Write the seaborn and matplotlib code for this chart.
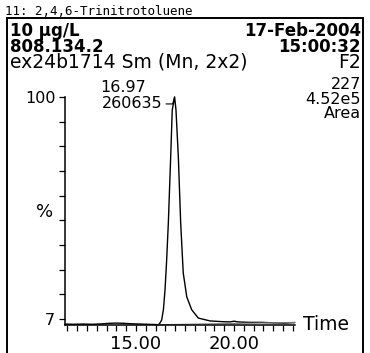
import numpy as np
import pandas as pd
import matplotlib
matplotlib.use("Agg")
import matplotlib.pyplot as plt
import seaborn as sns
from matplotlib.patches import Rectangle

# ---- data ----
time_min = [11.40, 11.80, 12.30, 12.80, 13.30, 13.60, 14.00, 14.40, 14.80, 15.20,
            15.60, 16.00, 16.12, 16.20, 16.31, 16.40, 16.48, 16.56, 16.65, 16.77,
            16.85, 16.97, 17.04, 17.16, 17.28, 17.41, 17.59, 17.84, 18.18, 18.78,
            19.40, 19.80, 20.00, 20.20, 20.80, 21.40, 22.00, 22.60, 23.10]
intensity_pct = [4.9, 4.8, 4.9, 4.8, 5.0, 5.2, 5.3, 5.2, 5.0, 4.9,
                 4.8, 4.7, 4.6, 5.0, 6.6, 11.0, 19.1, 31.0, 47.2, 74.9,
                 94.6, 100.0, 94.6, 74.9, 47.2, 26.3, 16.3, 10.9, 7.4, 6.2,
                 5.9, 5.8, 6.1, 5.8, 5.6, 5.6, 5.4, 5.3, 5.5]
baseline_time = [16.12, 23.10]
baseline_pct = [4.6, 5.6]

peak_time = 16.97
peak_height = 100.0
peak_area = "260635"

title_line = "11: 2,4,6-Trinitrotoluene"
header_left = ["10 µg/L", "808.134.2"]
header_right = ["17-Feb-2004", "15:00:32"]
sample_line = "ex24b1714 Sm (Mn, 2x2)"
function_label = "F2"
right_info = ["227", "4.52e5", "Area"]
x_tick_values = [15, 20]
x_tick_labels = ["15.00", "20.00"]
y_tick_values = [7, 100]
y_tick_labels = ["7", "100"]

sns.set_theme(style="ticks")
plt.rcParams["font.family"] = ["DejaVu Sans"]
plt.rcParams["text.color"] = "black"
plt.rcParams["xtick.color"] = "black"
plt.rcParams["ytick.color"] = "black"
plt.rcParams["axes.labelcolor"] = "black"

W, H = 370, 353
fig = plt.figure(figsize=(W / 100, H / 100), dpi=100)
fig.patch.set_facecolor("white")

def fx(px):
    return px / W

def fy(py):
    return 1 - py / H

ax = fig.add_axes([fx(65), fy(325), (295 - 65) / W, (325 - 97) / H])
ax.set_facecolor("white")

df = pd.DataFrame({"time": time_min, "intensity": intensity_pct})
bl = pd.DataFrame({"time": baseline_time, "intensity": baseline_pct})
sns.lineplot(data=df, x="time", y="intensity", ax=ax, color="black",
             linewidth=1.0, sort=False, estimator=None)
sns.lineplot(data=bl, x="time", y="intensity", ax=ax, color="#777777",
             linewidth=0.8, sort=False, estimator=None)
for ln in ax.lines:
    ln.set_clip_on(False)

ax.set_xlim(11.38, 23.11)
ax.set_ylim(4.5, 100)
ax.set_xlabel("")
ax.set_ylabel("")
for s in ["top", "right"]:
    ax.spines[s].set_visible(False)
for s in ["left", "bottom"]:
    ax.spines[s].set_linewidth(1.1)
    ax.spines[s].set_color("black")

ax.set_xticks(x_tick_values)
ax.set_xticklabels(x_tick_labels)
ax.set_xticks(np.arange(11.5, 23.01, 0.5), minor=True)
ax.set_yticks(y_tick_values)
ax.set_yticklabels(y_tick_labels)
ax.set_yticks(np.linspace(7, 100, 10)[1:-1], minor=True)
ax.tick_params(axis="x", which="both", length=4, width=0.9, direction="out",
               colors="black", labelsize=13, pad=3.5)
ax.tick_params(axis="y", which="both", length=4, width=0.9, direction="out",
               colors="black", labelsize=11.5, pad=3)

# peak annotation
ax.annotate(peak_area, xy=(peak_time, peak_height), xycoords="data",
            xytext=(-8.5, -5), textcoords="offset points", ha="right", va="center",
            fontsize=11.5, annotation_clip=False,
            arrowprops=dict(arrowstyle="-", lw=0.8, color="black",
                            shrinkA=0, shrinkB=0,
                            connectionstyle="angle,angleA=0,angleB=75,rad=0"))
ax.annotate(f"{peak_time:.2f}", xy=(peak_time, peak_height), xycoords="data",
            xytext=(-37, 6.5), textcoords="offset points", ha="center", va="center",
            fontsize=11.5, annotation_clip=False)

ax.text(1.035, 0.0, "Time", transform=ax.transAxes, ha="left", va="center",
        fontsize=13.5)
fig.text(fx(44.5), fy(212), "%", ha="center", va="center", fontsize=13)

# header
fig.text(fx(5), fy(15), title_line, family=["DejaVu Sans Mono"], fontsize=9,
         ha="left", va="baseline")
fig.text(fx(10), fy(36), header_left[0], fontsize=12, fontweight="bold",
         ha="left", va="baseline")
fig.text(fx(10), fy(52), header_left[1], fontsize=12, fontweight="bold",
         ha="left", va="baseline")
fig.text(fx(361), fy(36), header_right[0], fontsize=12, fontweight="bold",
         ha="right", va="baseline")
fig.text(fx(361), fy(52), header_right[1], fontsize=12, fontweight="bold",
         ha="right", va="baseline")
fig.text(fx(10), fy(68), sample_line, fontsize=13.5, ha="left", va="baseline")
fig.text(fx(361), fy(68), function_label, fontsize=13.5, ha="right", va="baseline")
for i, t in enumerate(right_info):
    fig.text(fx(361), fy(89 + 14.5 * i), t, fontsize=11.5, ha="right",
             va="baseline")

# frame box
fig.add_artist(Rectangle((fx(7), fy(360)), (363 - 7) / W, (360 - 18) / H,
                         transform=fig.transFigure, fill=False,
                         edgecolor="black", linewidth=1.4))

fig.savefig("out.png", dpi=100, facecolor="white")
